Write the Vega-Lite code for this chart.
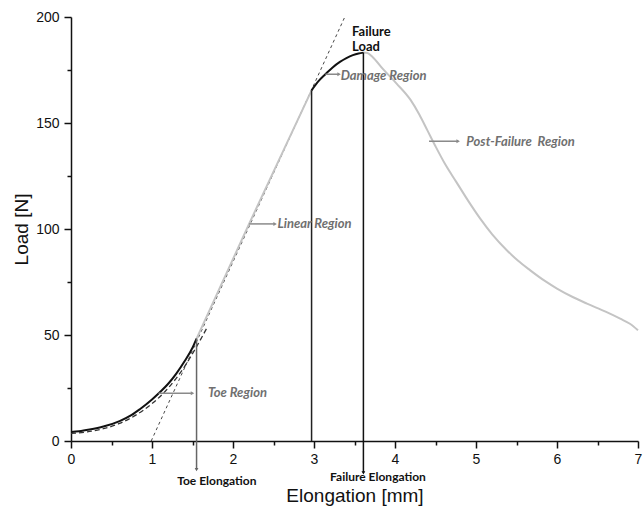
{
  "$schema": "https://vega.github.io/schema/vega-lite/v6.json",
  "width": 567,
  "height": 424,
  "autosize": {"type": "none"},
  "padding": {"left": 71, "top": 17, "right": 6, "bottom": 76},
  "background": "white",
  "config": {"view": {"stroke": null}},
  "datasets": {
    "fitline": [{"x": 0.99, "y": 0}, {"x": 3.38, "y": 200}],
    "toefit": [
      {"x": 0.0, "y": 3.6}, {"x": 0.2, "y": 4.3}, {"x": 0.4, "y": 5.8}, {"x": 0.6, "y": 8.3},
      {"x": 0.8, "y": 12.2}, {"x": 1.0, "y": 17.6}, {"x": 1.2, "y": 25.0}, {"x": 1.4, "y": 35.0},
      {"x": 1.55, "y": 44.5}, {"x": 1.68, "y": 53.5}
    ],
    "toe": [
      {"x": 0.0, "y": 4.3}, {"x": 0.1, "y": 4.6}, {"x": 0.23, "y": 5.4}, {"x": 0.4, "y": 6.8},
      {"x": 0.6, "y": 9.4}, {"x": 0.75, "y": 12.3}, {"x": 0.85, "y": 15.0}, {"x": 1.0, "y": 19.6},
      {"x": 1.1, "y": 23.1}, {"x": 1.2, "y": 27.0}, {"x": 1.3, "y": 31.8}, {"x": 1.4, "y": 37.5},
      {"x": 1.5, "y": 44.0}, {"x": 1.55, "y": 48.3}
    ],
    "linear": [{"x": 1.55, "y": 48.3}, {"x": 2.2, "y": 102.5}, {"x": 2.97, "y": 165.4}],
    "damage": [
      {"x": 2.97, "y": 165.4}, {"x": 3.05, "y": 169.5}, {"x": 3.14, "y": 173.0}, {"x": 3.23, "y": 176.2},
      {"x": 3.32, "y": 178.8}, {"x": 3.4, "y": 180.6}, {"x": 3.48, "y": 182.0}, {"x": 3.55, "y": 182.8},
      {"x": 3.61, "y": 183.2}
    ],
    "post": [
      {"x": 3.61, "y": 183.2}, {"x": 3.66, "y": 183.0}, {"x": 3.72, "y": 181.3}, {"x": 3.85, "y": 175.5},
      {"x": 4.02, "y": 168.6}, {"x": 4.19, "y": 161.0}, {"x": 4.3, "y": 154.0}, {"x": 4.4, "y": 146.5},
      {"x": 4.5, "y": 139.0}, {"x": 4.62, "y": 130.5}, {"x": 4.76, "y": 122.0}, {"x": 4.9, "y": 113.5},
      {"x": 5.05, "y": 105.0}, {"x": 5.2, "y": 97.5}, {"x": 5.38, "y": 90.0}, {"x": 5.52, "y": 85.0},
      {"x": 5.67, "y": 80.5}, {"x": 5.85, "y": 75.5}, {"x": 6.0, "y": 71.9}, {"x": 6.2, "y": 67.8},
      {"x": 6.37, "y": 64.8}, {"x": 6.6, "y": 61.0}, {"x": 6.78, "y": 57.7}, {"x": 6.9, "y": 55.3},
      {"x": 7.0, "y": 52.2}
    ],
    "vlines": [
      {"name": "toe", "x": 1.55, "y": 48.3, "y2": -13.5},
      {"name": "damage", "x": 2.97, "y": 165.4, "y2": 0},
      {"name": "failure", "x": 3.61, "y": 183.2, "y2": -15.0}
    ],
    "vheads": [
      {"name": "toe", "x": 1.55, "y": -13.5},
      {"name": "failure", "x": 3.61, "y": -15.0}
    ],
    "arrows": [
      {"name": "Toe", "x": 1.08, "x2": 1.5, "y": 22.5},
      {"name": "Linear", "x": 2.2, "x2": 2.52, "y": 102.4},
      {"name": "Damage", "x": 3.14, "x2": 3.31, "y": 173.0},
      {"name": "Post", "x": 4.42, "x2": 4.78, "y": 141.4}
    ],
    "regionlabels": [
      {"label": "Toe Region", "x": 1.69, "y": 22.5},
      {"label": "Linear Region", "x": 2.55, "y": 102.2},
      {"label": "Damage Region", "x": 3.33, "y": 172.0},
      {"label": "Post-Failure\u00a0 Region", "x": 4.88, "y": 141.2}
    ],
    "blacklabels": [
      {"label": "Failure", "x": 3.47, "y": 192.8},
      {"label": "Load", "x": 3.47, "y": 185.8}
    ],
    "elonglabels": [
      {"label": "Toe Elongation", "x": 1.8, "y": -19.0},
      {"label": "Failure Elongation", "x": 3.79, "y": -17.1}
    ]
  },
  "encoding": {
    "x": {
      "field": "x",
      "type": "quantitative",
      "scale": {"domain": [0, 7], "nice": false, "zero": false},
      "axis": {
        "title": "Elongation [mm]",
        "values": [0, 0.5, 1, 1.5, 2, 2.5, 3, 3.5, 4, 4.5, 5, 5.5, 6, 6.5, 7],
        "labelExpr": "datum.value % 1 === 0 ? format(datum.value, 'd') : ''",
        "tickSize": {"condition": {"test": "datum.value % 1 === 0", "value": 7}, "value": 4},
        "grid": false,
        "domainColor": "#111",
        "tickColor": "#111",
        "domainWidth": 1.5,
        "tickWidth": 1.5,
        "labelFont": "Liberation Sans",
        "labelFontSize": 14,
        "labelColor": "#111",
        "labelPadding": 4,
        "labelOverlap": false,
        "labelFlush": false,
        "labelBound": false,
        "titleFont": "Liberation Sans",
        "titleFontSize": 19,
        "titleFontWeight": "normal",
        "titleColor": "#111",
        "titleY": 45
      }
    },
    "y": {
      "field": "y",
      "type": "quantitative",
      "scale": {"domain": [0, 200], "nice": false, "zero": false},
      "axis": {
        "title": "Load [N]",
        "values": [0, 25, 50, 75, 100, 125, 150, 175, 200],
        "labelExpr": "datum.value % 50 === 0 ? format(datum.value, 'd') : ''",
        "tickSize": {"condition": {"test": "datum.value % 50 === 0", "value": 7}, "value": 4},
        "grid": false,
        "domainColor": "#111",
        "tickColor": "#111",
        "domainWidth": 1.5,
        "tickWidth": 1.5,
        "labelFont": "Liberation Sans",
        "labelFontSize": 14,
        "labelColor": "#111",
        "labelPadding": 5,
        "labelOverlap": false,
        "labelFlush": false,
        "titleFont": "Liberation Sans",
        "titleFontSize": 19,
        "titleFontWeight": "normal",
        "titleColor": "#111",
        "titleX": -40
      }
    }
  },
  "layer": [
    {
      "data": {"name": "fitline"},
      "mark": {"type": "line", "color": "#333", "strokeWidth": 0.9, "strokeDash": [3, 3]}
    },
    {
      "data": {"name": "linear"},
      "mark": {"type": "line", "color": "#c4c4c4", "strokeWidth": 2}
    },
    {
      "data": {"name": "post"},
      "mark": {"type": "line", "color": "#c4c4c4", "strokeWidth": 2, "interpolate": "monotone"}
    },
    {
      "data": {"name": "toefit"},
      "mark": {"type": "line", "color": "#333", "strokeWidth": 1.3, "strokeDash": [5, 3], "interpolate": "monotone"}
    },
    {
      "data": {"name": "toe"},
      "mark": {"type": "line", "color": "#111", "strokeWidth": 2, "interpolate": "monotone"}
    },
    {
      "data": {"name": "damage"},
      "mark": {"type": "line", "color": "#111", "strokeWidth": 2, "interpolate": "monotone"}
    },
    {
      "data": {"name": "vlines"},
      "mark": {"type": "rule", "strokeWidth": 1.5},
      "encoding": {
        "y2": {"field": "y2"},
        "color": {
          "field": "name",
          "type": "nominal",
          "scale": {"domain": ["toe", "damage", "failure"], "range": ["#666666", "#222222", "#111111"]},
          "legend": null
        }
      }
    },
    {
      "data": {"name": "vheads"},
      "mark": {"type": "point", "shape": "triangle-down", "filled": true, "size": 14, "opacity": 1},
      "encoding": {
        "color": {
          "field": "name",
          "type": "nominal",
          "scale": {"domain": ["toe", "damage", "failure"], "range": ["#666666", "#222222", "#111111"]},
          "legend": null
        }
      }
    },
    {
      "data": {"name": "arrows"},
      "mark": {"type": "rule", "color": "#8a8a8a", "strokeWidth": 1.5},
      "encoding": {"x2": {"field": "x2"}}
    },
    {
      "data": {"name": "arrows"},
      "mark": {"type": "point", "shape": "triangle-right", "filled": true, "size": 16, "color": "#8a8a8a", "opacity": 1},
      "encoding": {"x": {"field": "x2", "type": "quantitative"}}
    },
    {
      "data": {"name": "regionlabels"},
      "mark": {"type": "text", "align": "left", "baseline": "middle", "font": "Lato", "fontSize": 13, "fontWeight": "bold", "fontStyle": "italic", "color": "#707070"},
      "encoding": {"text": {"field": "label"}}
    },
    {
      "data": {"name": "blacklabels"},
      "mark": {"type": "text", "align": "left", "baseline": "middle", "font": "Lato", "fontSize": 13, "fontWeight": "bold", "color": "#111"},
      "encoding": {"text": {"field": "label"}}
    },
    {
      "data": {"name": "elonglabels"},
      "mark": {"type": "text", "align": "center", "baseline": "middle", "font": "Lato", "fontSize": 12, "fontWeight": "bold", "color": "#111"},
      "encoding": {"text": {"field": "label"}}
    }
  ]
}
